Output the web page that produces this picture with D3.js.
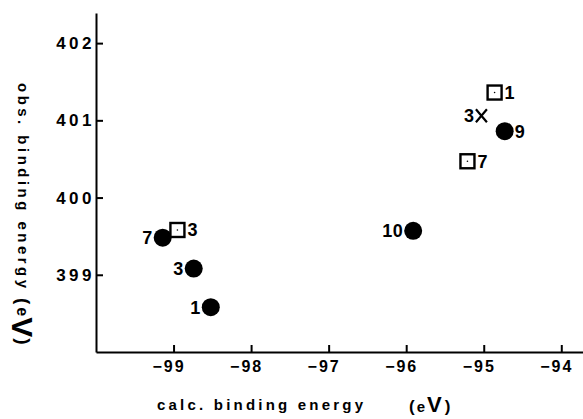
<!DOCTYPE html>
<html>
<head>
<meta charset="utf-8">
<script src="https://cdn.jsdelivr.net/npm/d3@7"></script>
<style>
  body { margin: 0; background: #fff; }
  svg text { font-family: "Liberation Sans", Arial, sans-serif; fill: #000; }
</style>
</head>
<body>
<div id="chart"></div>
<script>
// calc. vs obs. binding energy
const calcEnergy = [-99.14, -98.74, -98.52, -95.91, -94.73, -98.95, -94.86, -95.21, -95.03];
const obsEnergy  = [399.48, 399.08, 398.58, 399.57, 400.86, 399.58, 401.36, 400.47, 401.06];
const markers    = ['circle', 'circle', 'circle', 'circle', 'circle', 'square', 'square', 'square', 'cross'];
const pointLabels = ['7', '3', '1', '10', '9', '3', '1', '7', '3'];
const labelSide  = ['left', 'left', 'left', 'left', 'right', 'right', 'right', 'right', 'left'];
const xTicks = [-99, -98, -97, -96, -95, -94];
const yTicks = [399, 400, 401, 402];

const width = 583, height = 419;

const svg = d3.select('#chart')
  .append('svg')
  .attr('width', width)
  .attr('height', height);

const x = d3.scaleLinear().domain([-100, -93.72]).range([96, 583]);
const y = d3.scaleLinear().domain([398.0, 402.39]).range([352, 13]);

// axes: ticks point inward
const xAxis = svg.append('g')
  .attr('transform', `translate(0, ${y(398.0)})`)
  .call(d3.axisBottom(x).tickValues(xTicks).tickSizeInner(-7).tickSizeOuter(0)
    .tickFormat(d => '\u2212' + Math.abs(d)));
xAxis.select('.domain').attr('stroke-width', 2);
xAxis.selectAll('.tick line').attr('stroke-width', 2);
xAxis.selectAll('.tick text')
  .attr('y', 9)
  .attr('dx', '-5')
  .style('font-size', '16px')
  .style('font-weight', 'bold')
  .style('letter-spacing', '2px');

const yAxis = svg.append('g')
  .attr('transform', `translate(${x(-100)}, 0)`)
  .call(d3.axisLeft(y).tickValues(yTicks).tickSizeInner(-7).tickSizeOuter(0)
    .tickFormat(d3.format('d')));
yAxis.select('.domain').attr('stroke-width', 2);
yAxis.selectAll('.tick line').attr('stroke-width', 2);
yAxis.selectAll('.tick text')
  .attr('x', -1)
  .style('font-size', '17px')
  .style('font-weight', 'bold')
  .style('letter-spacing', '3.5px');

// axis titles
svg.append('text')
  .attr('x', 157).attr('y', 410)
  .attr('textLength', 206)
  .attr('lengthAdjust', 'spacing')
  .style('font-size', '15px')
  .style('font-weight', 'bold')
  .text('calc. binding energy');
const xUnit = svg.append('text')
  .attr('x', 409).attr('y', 412)
  .style('font-weight', 'bold');
xUnit.append('tspan').style('font-size', '17px').text('(');
xUnit.append('tspan').attr('dx', 2).style('font-size', '15px').text('e');
xUnit.append('tspan').attr('dx', 2).style('font-size', '22px').text('V');
xUnit.append('tspan').attr('dx', 3).style('font-size', '17px').text(')');

svg.append('text')
  .attr('transform', 'translate(18, 83) rotate(90)')
  .attr('textLength', 205)
  .attr('lengthAdjust', 'spacing')
  .style('font-size', '15px')
  .style('font-weight', 'bold')
  .text('obs. binding energy');
const yUnit = svg.append('text')
  .attr('transform', 'translate(17, 298) rotate(90)')
  .style('font-weight', 'bold');
yUnit.append('tspan').style('font-size', '19px').text('(');
yUnit.append('tspan').attr('dx', 3).style('font-size', '16px').text('e');
yUnit.append('tspan').attr('dx', 1).attr('dy', 5).style('font-size', '30px').text('V');
yUnit.append('tspan').attr('dx', 1).attr('dy', -5).style('font-size', '19px').text(')');

// points
const pts = calcEnergy.map((c, i) => ({
  cx: x(c), cy: y(obsEnergy[i]), marker: markers[i], label: pointLabels[i], side: labelSide[i]
}));

const g = svg.append('g');
pts.forEach(p => {
  if (p.marker === 'circle') {
    g.append('circle').attr('cx', p.cx).attr('cy', p.cy).attr('r', 9).attr('fill', '#000');
  } else if (p.marker === 'square') {
    g.append('rect').attr('x', p.cx - 7).attr('y', p.cy - 7)
      .attr('width', 14).attr('height', 14)
      .attr('fill', '#fff').attr('stroke', '#000').attr('stroke-width', 2.4);
    g.append('circle').attr('cx', p.cx).attr('cy', p.cy).attr('r', 0.8).attr('fill', '#000');
  } else {
    g.append('path')
      .attr('d', `M${p.cx - 5.5},${p.cy - 6.5}L${p.cx + 5.5},${p.cy + 6.5}M${p.cx + 5.5},${p.cy - 6.5}L${p.cx - 5.5},${p.cy + 6.5}`)
      .attr('stroke', '#000').attr('stroke-width', 2.2);
  }
  const off = p.marker === 'cross' ? 7 : 10;
  g.append('text')
    .attr('x', p.side === 'left' ? p.cx - off : p.cx + off)
    .attr('y', p.cy)
    .attr('dy', '0.36em')
    .attr('text-anchor', p.side === 'left' ? 'end' : 'start')
    .style('font-size', '18px')
    .style('font-weight', 'bold')
    .style('letter-spacing', '0.5px')
    .text(p.label);
});
</script>
</body>
</html>
